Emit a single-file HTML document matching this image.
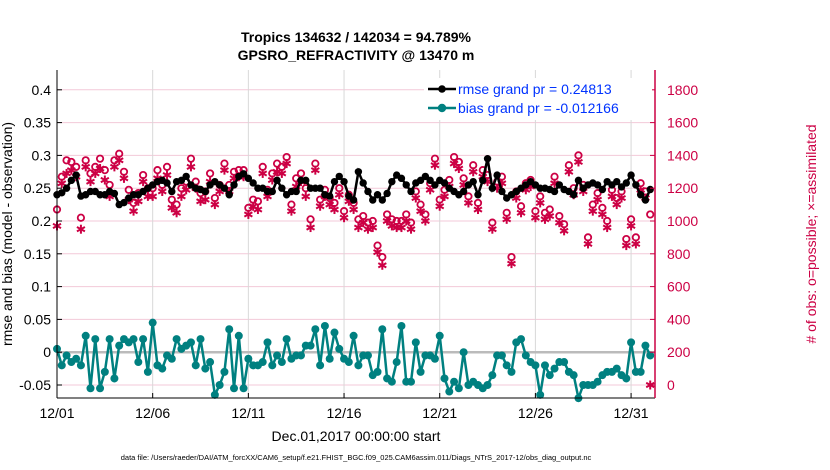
<!DOCTYPE html>
<html><head><meta charset="utf-8">
<style>
body{margin:0;background:#fff;}
svg{display:block;font-family:"Liberation Sans",Arial,sans-serif;}
</style></head>
<body>
<svg id="chart" width="830" height="470" viewBox="0 0 830 470">
<text x="356" y="42" text-anchor="middle" font-size="14" font-weight="bold">Tropics 134632 / 142034 = 94.789%</text>
<text x="356" y="60" text-anchor="middle" font-size="14" font-weight="bold">GPSRO_REFRACTIVITY @ 13470 m</text>
<g id="grid"></g>
<g id="marks"></g>
<g id="axes"></g>
<text transform="translate(12,234) rotate(-90)" text-anchor="middle" font-size="14">rmse and bias (model - observation)</text>
<text transform="translate(816,234) rotate(-90)" text-anchor="middle" font-size="14" fill="#cc0044"># of obs: o=possible; ×=assimilated</text>
<text x="356" y="441" text-anchor="middle" font-size="14">Dec.01,2017 00:00:00 start</text>
<text x="356" y="460" text-anchor="middle" font-size="7.5">data file: /Users/raeder/DAI/ATM_forcXX/CAM6_setup/f.e21.FHIST_BGC.f09_025.CAM6assim.011/Diags_NTrS_2017-12/obs_diag_output.nc</text>
<g id="legend">
<rect x="424" y="78" width="228" height="42" fill="#fff"/>
<line x1="428" y1="89" x2="456" y2="89" stroke="#000" stroke-width="2.5"/>
<circle cx="442" cy="89" r="3.8" fill="#000"/>
<text x="458" y="94" font-size="14" fill="#0033ff">rmse grand pr = 0.24813</text>
<line x1="428" y1="108" x2="456" y2="108" stroke="#008080" stroke-width="2.5"/>
<circle cx="442" cy="108" r="4.2" fill="#008080"/>
<text x="458" y="113" font-size="14" fill="#0033ff">bias grand pr = -0.012166</text>
</g>
</svg>
<script>
const rmse=[.24,.243,.25,.262,.27,.238,.24,.245,.245,.24,.24,.245,.242,.225,.228,.235,.24,.24,.245,.25,
.255,.26,.262,.258,.245,.26,.262,.268,.255,.25,.248,.245,.255,.26,.255,.25,.24,.255,.268,.272,
.265,.258,.25,.25,.245,.245,.262,.25,.24,.245,.245,.262,.262,.25,.25,.25,.24,.238,.26,.268,
.26,.238,.232,.275,.258,.245,.232,.24,.232,.242,.26,.27,.265,.255,.245,.258,.262,.268,.262,.255,
.262,.258,.25,.245,.24,.245,.255,.26,.24,.262,.295,.25,.27,.245,.235,.24,.245,.25,.255,.26,
.255,.25,.25,.248,.245,.255,.248,.245,.24,.262,.25,.255,.258,.255,.248,.26,.255,.26,.252,.258,
.27,.255,.24,.232,.248];
const bias=[.005,-.02,-.005,-.015,-.01,-.02,.025,-.055,.02,-.055,-.03,.02,-.04,.01,.02,.015,.02,-.015,.02,-.03,
.045,-.02,-.025,-.005,-.01,.02,.005,.01,.015,-.02,.02,-.025,-.015,-.065,-.05,-.03,.035,-.055,.025,-.055,
-.01,-.02,-.02,-.015,.015,-.02,-.005,-.015,.02,-.01,-.005,-.005,.01,.01,.035,-.02,.04,-.01,.03,.005,
-.01,-.015,.025,-.02,-.005,-.005,-.035,-.03,.035,-.04,-.045,-.015,.04,-.045,-.045,.015,-.03,-.005,-.005,-.01,
.025,-.04,-.06,-.045,-.055,.0,-.05,-.045,-.05,-.055,-.05,-.035,-.005,-.005,-.02,-.03,.015,.02,-.005,-.015,
-.02,-.065,-.02,-.035,-.025,-.015,-.015,-.03,-.035,-.07,-.05,-.05,-.05,-.045,-.035,-.03,-.03,-.025,-.035,-.04,
.015,-.03,-.03,.01,-.005];
const possible=[1070,1270,1370,1360,1330,1020,1370,1290,1330,1380,1310,1220,1370,1410,1300,1190,1110,1170,1280,1200,
1200,1310,1220,1330,1130,1100,1200,1240,1380,1240,1170,1180,1290,1140,1220,1350,1220,1300,1310,1310,
1080,1130,1120,1330,1190,1290,1350,1330,1390,1100,1260,1290,1200,1010,1350,1130,1190,1140,1110,1200,
1060,1160,1110,1010,1030,990,1000,850,780,1040,1010,1000,1000,1040,990,1180,1100,1040,1230,1380,
1130,1190,1250,1390,1360,1260,1150,1340,1110,1310,1280,990,1240,1270,1050,780,1180,1090,1230,1250,
1060,1150,1050,1070,1270,1030,980,1340,1200,1400,1220,900,1100,1170,1080,1000,1190,1140,1180,890,
1010,900,1230,1180,1040];
const assim=[970,1230,1290,1310,1270,950,1330,1240,1290,1320,1250,1150,1330,1370,1260,1130,1060,1120,1240,1150,
1150,1260,1180,1280,1080,1050,1150,1190,1330,1200,1120,1130,1240,1100,1180,1310,1180,1260,1270,1270,
1040,1090,1070,1290,1150,1250,1300,1290,1350,1060,1210,1240,1150,960,1310,1090,1150,1100,1070,1160,
1020,1120,1070,960,990,950,960,810,730,1000,970,960,960,1000,950,1140,1060,1000,1190,1340,
1090,1150,1210,1350,1320,1220,1110,1300,1070,1270,1240,950,1200,1230,1010,740,1140,1050,1190,1210,
1020,1110,1010,1030,1230,990,940,1300,1160,1360,1180,860,1060,1130,1040,960,1150,1100,1140,850,
970,860,1190,1140,0];
const leftTicks=[-0.05,0,0.05,0.1,0.15,0.2,0.25,0.3,0.35,0.4];
const rightTicks=[0,200,400,600,800,1000,1200,1400,1600,1800];
const xTickLabels=["12/01","12/06","12/11","12/16","12/21","12/26","12/31"];
const xTickDays=[0,5,10,15,20,25,30];

const X0=57,X1=655,Y0=70,Y1=398;
const xs=d=>X0+(d/31.25)*(X1-X0);
const yL=v=>352.2-v*656;
const yR=c=>352.2-(c-200)*0.164;
const NS="http://www.w3.org/2000/svg";
function mk(parent,tag,attrs){const e=document.createElementNS(NS,tag);for(const k in attrs)e.setAttribute(k,attrs[k]);parent.appendChild(e);return e;}
const grid=document.getElementById('grid'),marks=document.getElementById('marks'),axes=document.getElementById('axes');
mk(grid,'rect',{x:X0,y:Y0,width:X1-X0,height:Y1-Y0,fill:'#fff'});
leftTicks.forEach(v=>{const l=mk(grid,'line',{x1:X0,x2:X1,y1:yL(v),y2:yL(v),stroke:'#f3c9d8','stroke-width':1});

});
xTickDays.forEach(d=>{const l=mk(grid,'line',{x1:xs(d),x2:xs(d),y1:Y0,y2:Y1,stroke:'#d8d8d8','stroke-width':1});

});
const zl=mk(grid,'line',{x1:X0,x2:X1,y1:yL(0),y2:yL(0),stroke:'#bbb','stroke-width':2.5});


const tX=i=>xs(i*0.25);
possible.forEach((c,i)=>{const e=mk(marks,'circle',{cx:tX(i),cy:yR(c),r:3.2,fill:'none',stroke:'#cc0044','stroke-width':1.8});

});
assim.forEach((c,i)=>{const x=tX(i),y=yR(c);const g=mk(marks,'g',{stroke:'#cc0044','stroke-width':2});


[[0,4.5],[4,2.2],[4,-2.2]].forEach(([dx,dy])=>mk(g,'line',{x1:x-dx,y1:y-dy,x2:x+dx,y2:y+dy}));});
const rp=mk(marks,'polyline',{points:rmse.map((v,i)=>tX(i)+','+yL(v)).join(' '),fill:'none',stroke:'#000','stroke-width':2.5});


rmse.forEach((v,i)=>{const e=mk(marks,'circle',{cx:tX(i),cy:yL(v),r:3.7,fill:'#000'});

});
const bp=mk(marks,'polyline',{points:bias.map((v,i)=>tX(i)+','+yL(v)).join(' '),fill:'none',stroke:'#008080','stroke-width':2.5});


bias.forEach((v,i)=>{const e=mk(marks,'circle',{cx:tX(i),cy:yL(v),r:4,fill:'#008080'});

});
mk(axes,'line',{x1:X0,x2:X0,y1:Y0,y2:Y1,stroke:'#000','stroke-width':1});
mk(axes,'line',{x1:X0,x2:X1,y1:Y1,y2:Y1,stroke:'#000','stroke-width':1});
mk(axes,'line',{x1:X1,x2:X1,y1:Y0,y2:Y1,stroke:'#cc0044','stroke-width':1.5});
leftTicks.forEach(v=>{mk(axes,'line',{x1:X0,x2:X0+5,y1:yL(v),y2:yL(v),stroke:'#000'});
const t=mk(axes,'text',{x:X0-6,y:yL(v)+5,'text-anchor':'end','font-size':14});t.textContent=String(v);

});
rightTicks.forEach(c=>{mk(axes,'line',{x1:X1-5,x2:X1,y1:yR(c),y2:yR(c),stroke:'#cc0044'});
const t=mk(axes,'text',{x:X1+12,y:yR(c)+5,'font-size':14,fill:'#cc0044'});t.textContent=String(c);

});
xTickDays.forEach((d,k)=>{mk(axes,'line',{x1:xs(d),x2:xs(d),y1:Y1-5,y2:Y1,stroke:'#000'});
const t=mk(axes,'text',{x:xs(d),y:Y1+20,'text-anchor':'middle','font-size':14});t.textContent=xTickLabels[k];

});
</script>
</body></html>
